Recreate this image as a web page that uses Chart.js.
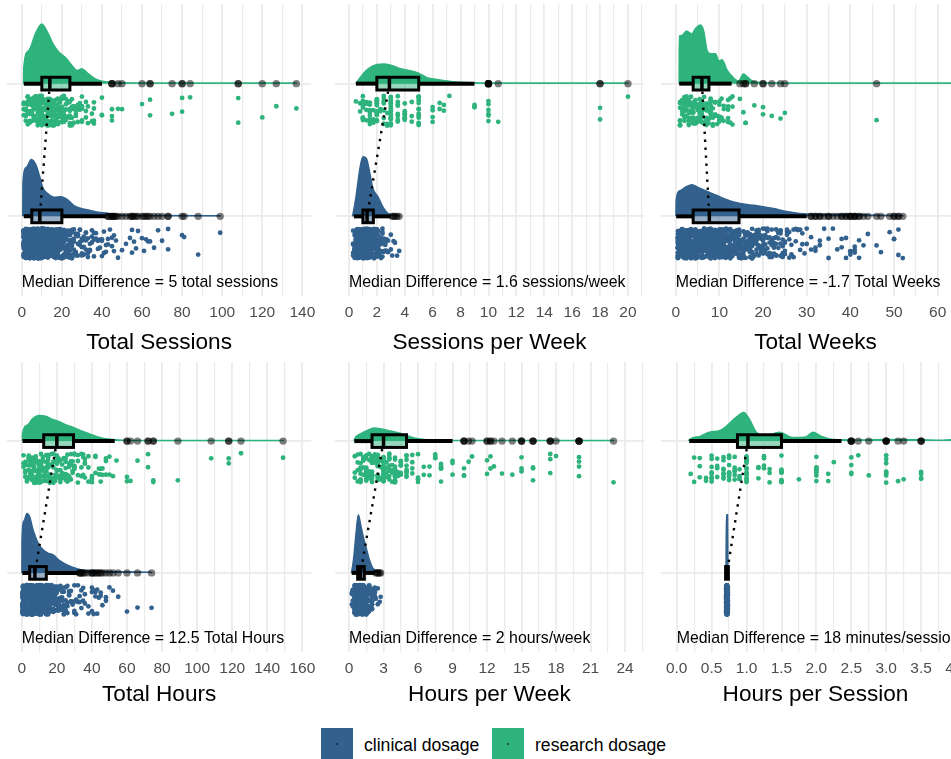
<!DOCTYPE html>
<html>
<head>
<meta charset="utf-8">
<title>Clinical vs research dosage</title>
<script src="https://cdn.jsdelivr.net/npm/chart.js@4/dist/chart.umd.min.js"></script>
<style>
  html, body { margin: 0; padding: 0; background: #fff; }
  body { position: relative; width: 951px; height: 759px; overflow: hidden;
         font-family: "Liberation Sans", Arial, Helvetica, sans-serif; }
  canvas { position: absolute; }
  .key { position: absolute; top: 728px; width: 32px; height: 32px; }
  .key::after { content: ""; position: absolute; left: 15px; top: 15px; width: 2px; height: 2px;
                background: rgba(0,0,0,0.65); border-radius: 1px; }
  .key-label { position: absolute; top: 734px; font-size: 17.6px; line-height: 22px; color: #000; white-space: nowrap; }
</style>
</head>
<body>
<script>
// ---------------- groups ----------------
const groupNames = ['clinical dosage', 'research dosage'];

// ---------------- Total Sessions ----------------
const sessionsTicks = [0, 20, 40, 60, 80, 100, 120, 140];
// [value, number of cases]
const sessionsResearch = [[1,4],[2,5],[3,6],[4,7],[5,8],[6,10],[7,9],[8,12],[9,9],[10,19],[11,8],[12,17],[13,8],[14,9],[15,14],[16,10],[17,6],[18,9],[19,4],[20,12],[21,5],[22,6],[23,3],[24,8],[25,4],[26,3],[27,3],[28,4],[29,2],[30,6],[32,3],[33,2],[35,2],[36,4],[40,3],[45,3],[48,1],[50,1],[60,1],[64,2],[75,1],[80,2],[84,1],[108,2],[120,1],[127,1],[137,1]];
const sessionsClinical = [[1,30],[2,44],[3,50],[4,52],[5,52],[6,48],[7,44],[8,40],[9,38],[10,36],[11,30],[12,28],[13,25],[14,22],[15,22],[16,19],[17,16],[18,16],[19,13],[20,15],[21,10],[22,10],[23,8],[24,8],[25,7],[26,5],[27,5],[28,5],[29,4],[30,5],[31,3],[32,4],[33,3],[34,3],[35,3],[36,3],[37,2],[38,2],[39,2],[40,3],[41,2],[42,2],[43,2],[44,1],[45,2],[46,2],[47,1],[48,1],[50,1],[52,1],[54,1],[55,2],[56,1],[57,1],[58,1],[60,1],[61,1],[62,1],[63,1],[64,1],[66,1],[68,1],[70,1],[73,2],[80,1],[81,1],[88,1],[99,1]];
// [lower whisker, Q1, median, Q3, upper whisker]
const sessionsResearchBox = [1, 10, 14, 24, 40];
const sessionsClinicalBox = [1, 5, 9, 20, 42];
const sessionsResearchOutliers = [45, 45, 45, 48, 50, 60, 64, 64, 75, 80, 80, 84, 108, 108, 120, 127, 137];
const sessionsClinicalOutliers = [43, 43, 44, 45, 45, 46, 46, 47, 48, 50, 52, 54, 55, 55, 56, 57, 58, 60, 61, 62, 63, 64, 66, 68, 70, 73, 73, 80, 81, 88, 99];
// [value, relative density]
const sessionsResearchDensity = [[0.9,0],[1,0.27],[3.4,0.55],[7,0.85],[10,1],[13,0.85],[15.5,0.67],[18.7,0.52],[22,0.43],[24.4,0.33],[27.7,0.22],[30,0.25],[32.6,0.18],[36.7,0.08],[41.6,0.03],[50,0.015],[80,0.01],[137,0.01],[137.3,0]];
const sessionsClinicalDensity = [[0.5,0],[0.6,0.57],[2.3,0.82],[4.8,0.95],[7.2,0.85],[8.8,0.68],[10.5,0.48],[12.9,0.38],[16.2,0.32],[19.5,0.33],[22.8,0.28],[26,0.18],[30,0.13],[34,0.1],[38,0.07],[43,0.05],[46.5,0.025],[60,0.015],[99,0.01],[99.3,0]];

// ---------------- Sessions per Week ----------------
const weeklySessionsTicks = [0, 2, 4, 6, 8, 10, 12, 14, 16, 18, 20];
const weeklySessionsResearch = [[0.5,1],[0.8,2],[1,8],[1.25,4],[1.5,8],[1.75,3],[2,14],[2.25,4],[2.5,10],[2.75,3],[3,16],[3.5,8],[4,10],[4.5,3],[5,14],[6,4],[6.5,2],[6.8,2],[7.2,1],[9,3],[10,6],[10.7,1],[18,2],[20,1]];
const weeklySessionsClinical = [[0.3,5],[0.4,8],[0.5,16],[0.6,18],[0.7,23],[0.8,28],[0.9,30],[1,50],[1.1,30],[1.2,28],[1.3,26],[1.4,23],[1.5,26],[1.6,18],[1.7,16],[1.8,13],[1.9,10],[2,18],[2.1,8],[2.2,6],[2.3,5],[2.4,5],[2.5,4],[2.6,3],[2.7,2],[2.8,2],[3,2],[3.1,1],[3.2,1],[3.3,1],[3.45,1],[3.6,1]];
const weeklySessionsResearchBox = [0.5, 2, 2.9, 5, 9];
const weeklySessionsClinicalBox = [0.35, 1.0, 1.3, 1.75, 3.0];
const weeklySessionsResearchOutliers = [10, 10, 10, 10, 10, 10, 10.7, 18, 18, 20];
const weeklySessionsClinicalOutliers = [3.1, 3.2, 3.3, 3.45, 3.6];
const weeklySessionsResearchDensity = [[0.5,0],[0.55,0.02],[0.9,0.13],[1.4,0.25],[2,0.32],[2.5,0.33],[3.1,0.3],[3.7,0.25],[4.3,0.22],[4.95,0.18],[5.6,0.1],[6.3,0.07],[7.5,0.03],[9,0.015],[12,0.01],[20,0.01],[20.05,0]];
const weeklySessionsClinicalDensity = [[0.25,0],[0.3,0.05],[0.5,0.32],[0.8,0.82],[1.0,1.0],[1.25,0.97],[1.5,0.72],[1.7,0.48],[2.1,0.32],[2.45,0.15],[2.8,0.05],[3.3,0.02],[3.6,0.01],[3.65,0]];

// ---------------- Total Weeks ----------------
const weeksTicks = [0, 10, 20, 30, 40, 50, 60];
const weeksResearch = [[1,8],[1.5,4],[2,9],[2.5,5],[3,9],[3.5,5],[4,12],[4.5,6],[5,10],[5.5,6],[6,12],[6.5,5],[7,8],[7.5,4],[8,10],[8.5,4],[9,5],[9.5,2],[10,6],[10.5,2],[11,3],[12,5],[12.5,2],[13,3],[14.7,1],[15.5,1],[16,2],[18,1],[20,2],[22,1],[24,1],[25,1],[46,1]];
const weeksClinical = [[0.5,20],[1,20],[1.5,20],[2,21],[2.5,21],[3,22],[3.5,22],[4,24],[4.5,24],[5,22],[5.5,21],[6,21],[6.5,20],[7,20],[7.5,18],[8,20],[8.5,18],[9,18],[9.5,17],[10,18],[10.5,17],[11,15],[11.5,14],[12,15],[12.5,14],[13,14],[13.5,12],[14,14],[14.5,12],[15,12],[15.5,11],[16,11],[16.5,9],[17,10],[17.5,9],[18,9],[18.5,8],[19,8],[19.5,6],[20,8],[20.5,5],[21,5],[21.5,5],[22,5],[22.5,5],[23,5],[23.5,4],[24,5],[24.5,4],[25,4],[25.5,3],[26,3],[26.5,2],[27,2],[27.5,2],[28,2],[28.5,2],[29,2],[29.5,1],[30,2],[31,2],[32,2],[33,2],[34,1],[35,2],[36,1],[37,1],[38,2],[39,2],[40,3],[41,3],[42,2],[43,1],[44,1],[46,1],[47,1],[49,1],[50,2],[51,2],[52,1]];
const weeksResearchBox = [0.8, 4, 6, 7.6, 12.8];
const weeksClinicalBox = [0.1, 4, 7.7, 14.5, 30];
const weeksResearchOutliers = [14.7, 15.5, 16, 16, 18, 20, 20, 22, 24, 25, 46];
const weeksClinicalOutliers = [31, 31, 32, 32, 33, 33, 34, 35, 35, 36, 37, 38, 38, 39, 39, 40, 40, 40, 41, 41, 41, 42, 42, 43, 44, 46, 47, 49, 50, 50, 51, 51, 52];
const weeksResearchDensity = [[0.78,0],[0.82,0.8],[1.3,0.8],[2.5,0.88],[3.7,0.83],[4.5,0.92],[5.7,0.98],[6.4,0.88],[7.2,0.55],[8,0.5],[9.1,0.5],[9.9,0.38],[10.6,0.4],[11.8,0.22],[12.8,0.13],[14.4,0.04],[15.5,0.16],[16.6,0.1],[17.8,0.03],[20,0.015],[30,0.01],[66,0.01],[66.1,0]];
const weeksClinicalDensity = [[0.05,0],[0.1,0.27],[1,0.43],[2.5,0.5],[3.7,0.53],[5.2,0.48],[7.1,0.42],[9.4,0.35],[11.7,0.28],[14,0.23],[16.3,0.2],[19.3,0.17],[22.4,0.13],[25.4,0.08],[28.4,0.05],[31.5,0.035],[40,0.03],[46,0.02],[52,0.015],[52.1,0]];

// ---------------- Total Hours ----------------
const hoursTicks = [0, 20, 40, 60, 80, 100, 120, 140, 160];
const hoursResearch = [[1,3],[2,4],[3,5],[4,6],[5,6],[6,6],[7,5],[8,7],[9,6],[10,9],[11,5],[12,8],[13,5],[14,6],[15,8],[16,6],[17,5],[18,7],[19,4],[20,9],[21,4],[22,5],[23,4],[24,6],[25,5],[26,4],[27,4],[28,4],[29,3],[30,6],[32,4],[34,3],[35,3],[36,4],[38,3],[40,4],[42,3],[44,2],[45,3],[46,2],[48,3],[50,2],[52,1],[54,1],[60,2],[62,1],[66,1],[72,2],[75,2],[89,1],[108,1],[118,2],[125,1],[149,1]];
const hoursClinical = [[0.5,22],[1,44],[2,50],[3,52],[4,52],[5,46],[6,44],[7,40],[8,38],[9,32],[10,32],[11,26],[12,26],[13,20],[14,20],[15,17],[16,17],[17,14],[18,14],[19,11],[20,12],[21,8],[22,8],[23,7],[24,7],[25,4],[26,4],[27,4],[28,3],[29,3],[30,4],[31,2],[32,2],[33,2],[34,2],[35,2],[36,2],[38,2],[40,3],[41,2],[42,2],[43,2],[44,1],[45,2],[46,1],[48,2],[50,1],[52,1],[55,1],[60,1],[66,1],[74,1]];
const hoursResearchBox = [0.4, 12.5, 20, 29.5, 53];
const hoursClinicalBox = [0.3, 4.5, 7.5, 14, 32];
const hoursResearchOutliers = [60, 60, 62, 66, 72, 72, 75, 75, 89, 108, 118, 118, 125, 149];
const hoursClinicalOutliers = [33, 33, 34, 34, 35, 36, 38, 40, 40, 41, 42, 43, 44, 45, 46, 48, 50, 52, 55, 60, 66, 74];
const hoursResearchDensity = [[0.35,0],[0.42,0.12],[3.2,0.27],[6,0.37],[9.7,0.43],[13.5,0.42],[17.2,0.37],[21,0.33],[24.7,0.28],[29.4,0.23],[34,0.17],[38.7,0.12],[43.4,0.07],[49,0.035],[55,0.02],[70,0.012],[149,0.01],[149.3,0]];
const hoursClinicalDensity = [[0.08,0],[0.12,0.55],[1.3,0.88],[3,1],[4.7,0.93],[6,0.77],[7.9,0.6],[9.7,0.48],[12.5,0.38],[15.3,0.33],[18.1,0.3],[21,0.22],[24.7,0.15],[28.5,0.1],[34,0.05],[39.6,0.033],[50,0.02],[74,0.01],[74.3,0]];

// ---------------- Hours per Week ----------------
const weeklyHoursTicks = [0, 3, 6, 9, 12, 15, 18, 21, 24];
const weeklyHoursResearch = [[0.5,3],[0.75,4],[1,10],[1.25,6],[1.5,10],[1.75,5],[2,16],[2.25,5],[2.5,12],[2.75,4],[3,18],[3.25,4],[3.5,10],[3.75,4],[4,14],[4.25,3],[4.5,6],[5,10],[5.5,4],[6,4],[6.5,2],[7,2],[7.5,3],[8,6],[9,3],[10,3],[10.4,1],[10.7,1],[12,2],[12.3,2],[12.6,1],[13.3,1],[14.2,1],[15,3],[16,3],[17.5,3],[18,1],[20,4],[23,1]];
const weeklyHoursClinical = [[0.25,3],[0.33,5],[0.5,22],[0.6,16],[0.67,14],[0.75,44],[0.8,22],[0.9,16],[1,44],[1.1,14],[1.2,16],[1.25,18],[1.33,12],[1.5,24],[1.67,9],[1.75,9],[2,13],[2.25,4],[2.33,1],[2.5,2],[2.67,1],[2.75,1]];
const weeklyHoursResearchBox = [0.46, 2, 3, 5, 9];
const weeklyHoursClinicalBox = [0.23, 0.75, 1, 1.33, 2.25];
const weeklyHoursResearchOutliers = [10, 10, 10, 10.4, 10.7, 12, 12, 12.3, 12.3, 12.6, 13.3, 14.2, 15, 15, 15, 16, 16, 16, 17.5, 17.5, 17.5, 18, 20, 20, 20, 20, 23];
const weeklyHoursClinicalOutliers = [2.33, 2.5, 2.5, 2.67, 2.75];
const weeklyHoursResearchDensity = [[0.44,0],[0.46,0.02],[1,0.12],[1.6,0.18],[2.2,0.22],[2.7,0.21],[3.6,0.17],[4.5,0.13],[5.3,0.075],[6.2,0.035],[7.6,0.015],[10,0.01],[23,0.01],[23.05,0]];
const weeklyHoursClinicalDensity = [[0.2,0],[0.23,0.02],[0.42,0.27],[0.6,0.65],[0.81,0.98],[1,0.82],[1.25,0.6],[1.48,0.43],[1.77,0.22],[2.1,0.07],[2.7,0.015],[2.75,0]];

// ---------------- Hours per Session ----------------
const sessionHoursTicks = [0, 0.5, 1, 1.5, 2, 2.5, 3, 3.5, 4];
const sessionHoursResearch = [[0.2,1],[0.25,2],[0.33,3],[0.42,2],[0.5,8],[0.58,4],[0.67,8],[0.75,10],[0.83,6],[0.9,4],[1,16],[1.17,3],[1.25,4],[1.33,3],[1.5,9],[1.75,1],[2,8],[2.17,2],[2.25,1],[2.5,4],[2.6,1],[2.75,1],[3,7],[3.17,1],[3.25,1],[3.5,4]];
const sessionHoursClinical = [[0.71,40],[0.72,220],[0.73,40]];
const sessionHoursResearchBox = [0.18, 0.87, 1.02, 1.5, 2.36];
const sessionHoursClinicalBox = [0.7, 0.7, 0.72, 0.74, 0.74];
const sessionHoursResearchOutliers = [2.5, 2.5, 2.5, 2.5, 2.6, 2.75, 3, 3, 3, 3, 3.17, 3.25, 3.5, 3.5, 3.5];
const sessionHoursClinicalOutliers = [];
const sessionHoursResearchDensity = [[0.17,0],[0.18,0.02],[0.33,0.08],[0.47,0.15],[0.62,0.18],[0.73,0.27],[0.85,0.4],[0.96,0.48],[1.04,0.37],[1.14,0.15],[1.28,0.09],[1.47,0.15],[1.66,0.06],[1.85,0.07],[1.95,0.15],[2.07,0.08],[2.24,0.025],[2.6,0.02],[3,0.025],[3.5,0.022],[3.8,0.015],[4.05,0.03],[4.3,0.01],[4.5,0]];
const sessionHoursClinicalDensity = [[0.706,0],[0.712,0.98],[0.728,0.98],[0.734,0]];

// ---------------- styling ----------------
const FONT = '"Liberation Sans", Arial, Helvetica, sans-serif';
const COLOURS = { clinical: '#32618D', research: '#2EB37C' };
const GRID = '#EBEBEB';
const SLAB = 0.45;        // tallest density slab, in category units
const BOX_HALF = 0.048;   // half height of a box
const JIT_NEAR = 0.092, JIT_SPAN = 0.225;  // rain band below each cloud

const colLeft = [0, 328, 654];
const rowTop = [0, 358];
const rowHeight = [356, 354];
const rowPadTop = [3.2, 3.5];
const rowTitlePad = [0, 3.8];

const panelSpecs = [
  { title: 'Total Sessions', unit: 'total sessions', unitScale: 1, ticks: sessionsTicks, decimals: 0,
    min: -7.37, max: 144.4, col: 0, row: 0,
    research: { pts: sessionsResearch, box: sessionsResearchBox, out: sessionsResearchOutliers, dens: sessionsResearchDensity },
    clinical: { pts: sessionsClinical, box: sessionsClinicalBox, out: sessionsClinicalOutliers, dens: sessionsClinicalDensity } },
  { title: 'Sessions per Week', unit: 'sessions/week', unitScale: 1, ticks: weeklySessionsTicks, decimals: 0,
    min: -1.0, max: 21.15, col: 1, row: 0,
    research: { pts: weeklySessionsResearch, box: weeklySessionsResearchBox, out: weeklySessionsResearchOutliers, dens: weeklySessionsResearchDensity },
    clinical: { pts: weeklySessionsClinical, box: weeklySessionsClinicalBox, out: weeklySessionsClinicalOutliers, dens: weeklySessionsClinicalDensity } },
  { title: 'Total Weeks', unit: 'Total Weeks', unitScale: 1, ticks: weeksTicks, decimals: 0,
    min: -3.37, max: 67.4, col: 2, row: 0,
    research: { pts: weeksResearch, box: weeksResearchBox, out: weeksResearchOutliers, dens: weeksResearchDensity },
    clinical: { pts: weeksClinical, box: weeksClinicalBox, out: weeksClinicalOutliers, dens: weeksClinicalDensity } },
  { title: 'Total Hours', unit: 'Total Hours', unitScale: 1, ticks: hoursTicks, decimals: 0,
    min: -8.42, max: 165.1, col: 0, row: 1,
    research: { pts: hoursResearch, box: hoursResearchBox, out: hoursResearchOutliers, dens: hoursResearchDensity },
    clinical: { pts: hoursClinical, box: hoursClinicalBox, out: hoursClinicalOutliers, dens: hoursClinicalDensity } },
  { title: 'Hours per Week', unit: 'hours/week', unitScale: 1, ticks: weeklyHoursTicks, decimals: 0,
    min: -1.22, max: 25.65, col: 1, row: 1,
    research: { pts: weeklyHoursResearch, box: weeklyHoursResearchBox, out: weeklyHoursResearchOutliers, dens: weeklyHoursResearchDensity },
    clinical: { pts: weeklyHoursClinical, box: weeklyHoursClinicalBox, out: weeklyHoursClinicalOutliers, dens: weeklyHoursClinicalDensity } },
  { title: 'Hours per Session', unit: 'minutes/session', unitScale: 60, ticks: sessionHoursTicks, decimals: 1,
    min: -0.225, max: 4.2, col: 2, row: 1,
    research: { pts: sessionHoursResearch, box: sessionHoursResearchBox, out: sessionHoursResearchOutliers, dens: sessionHoursResearchDensity },
    clinical: { pts: sessionHoursClinical, box: sessionHoursClinicalBox, out: sessionHoursClinicalOutliers, dens: sessionHoursClinicalDensity } }
];

// ---------------- helpers ----------------
function withAlpha(hex, a) {
  const n = parseInt(hex.slice(1), 16);
  return `rgba(${(n >> 16) & 255},${(n >> 8) & 255},${n & 255},${a})`;
}
const key = v => Math.round(v * 10000);

// integer hash of (case number, salt) -> [0, 1), used as a fixed vertical spread
function spread(a, b) {
  let h = Math.imul(a, 374761393) + Math.imul(b, 668265263) | 0;
  h = Math.imul(h ^ (h >>> 13), 1274126177);
  h ^= h >>> 16;
  return (h >>> 0) / 4294967296;
}

// drop each case into the rain band under its cloud (its x value is untouched)
function rain(pairs, base, salt) {
  const out = [];
  let k = 0;
  for (const [v, n] of pairs) {
    for (let i = 0; i < n; i++) {
      out.push({ x: v, y: base - JIT_NEAR - JIT_SPAN * spread(++k, salt) });
    }
  }
  return out;
}

function medianLabel(spec) {
  const d = (spec.research.box[2] - spec.clinical.box[2]) * spec.unitScale;
  const r = Math.round(d * 10) / 10;
  return `Median Difference = ${r} ${spec.unit}`;
}

function groupDatasets(g, base, colour, salt) {
  return [
    { type: 'line', data: g.dens.map(([x, h]) => ({ x, y: base + h * SLAB })),
      borderColor: colour, backgroundColor: colour, borderWidth: 1.5, fill: { value: base },
      pointRadius: 0, cubicInterpolationMode: 'monotone', order: 60 },
    { type: 'scatter', data: rain(g.pts, base, salt), backgroundColor: colour,
      borderWidth: 0, pointRadius: 2.4, order: 50 },
    { type: 'line', data: [{ x: g.box[0], y: base }, { x: g.box[1], y: base }],
      borderColor: '#000', borderWidth: 4, pointRadius: 0, order: 30 },
    { type: 'line', data: [{ x: g.box[3], y: base }, { x: g.box[4], y: base }],
      borderColor: '#000', borderWidth: 4, pointRadius: 0, order: 30 },
    { type: 'scatter', data: g.out.map(v => ({ x: v, y: base })), backgroundColor: 'rgba(0,0,0,0.5)',
      borderWidth: 0, pointRadius: 3.7, order: 10 }
  ];
}

function makePanel(spec, idx) {
  const cv = document.createElement('canvas');
  cv.width = 323;
  cv.height = rowHeight[spec.row];
  cv.style.left = colLeft[spec.col] + 'px';
  cv.style.top = rowTop[spec.row] + 'px';
  document.body.appendChild(cv);

  const labelled = new Set(spec.ticks.map(key));
  const gridValues = spec.ticks.slice();
  const step = spec.ticks[1] - spec.ticks[0];
  spec.ticks.forEach(t => { if (t + step / 2 <= spec.max) gridValues.push(t + step / 2); });
  gridValues.sort((a, b) => a - b);

  const label = medianLabel(spec);
  const groups = [
    { g: spec.research, base: 2, colour: COLOURS.research },
    { g: spec.clinical, base: 1, colour: COLOURS.clinical }
  ];

  const datasets = [
    ...groupDatasets(spec.research, 2, COLOURS.research, 101 + idx * 17),
    ...groupDatasets(spec.clinical, 1, COLOURS.clinical, 907 + idx * 31),
    { type: 'line', data: [{ x: spec.research.box[2], y: 2 }, { x: spec.clinical.box[2], y: 1 }],
      borderColor: '#000', borderWidth: 2.4, borderDash: [2.4, 5.6], pointRadius: 0, order: 40 }
  ];

  const boxes = {
    id: 'boxes',
    afterDatasetsDraw(chart) {
      const { ctx, chartArea: a, scales: { x, y } } = chart;
      ctx.save();
      ctx.beginPath();
      ctx.rect(a.left, a.top, a.right - a.left, a.bottom - a.top);
      ctx.clip();
      for (const { g, base, colour } of groups) {
        const [, q1, med, q3] = g.box;
        const xl = x.getPixelForValue(q1), xr = x.getPixelForValue(q3);
        const yt = y.getPixelForValue(base + BOX_HALF), yb = y.getPixelForValue(base - BOX_HALF);
        ctx.fillStyle = withAlpha(colour, 0.5);
        ctx.fillRect(xl, yt, xr - xl, yb - yt);
        ctx.lineWidth = 3;
        ctx.strokeStyle = '#000';
        ctx.strokeRect(xl, yt, xr - xl, yb - yt);
        const xm = x.getPixelForValue(med);
        ctx.lineWidth = 3.5;
        ctx.beginPath();
        ctx.moveTo(xm, yt);
        ctx.lineTo(xm, yb);
        ctx.stroke();
      }
      ctx.restore();
      ctx.save();
      ctx.font = `15.9px ${FONT}`;
      ctx.fillStyle = '#000';
      ctx.textAlign = 'left';
      ctx.textBaseline = 'middle';
      ctx.fillText(label, x.getPixelForValue(0), y.getPixelForValue(0.5));
      ctx.restore();
    }
  };

  new Chart(cv, {
    type: 'scatter',
    data: { datasets },
    plugins: [boxes],
    options: {
      responsive: false, animation: false, devicePixelRatio: 1, events: [],
      layout: { padding: { left: 7, right: 7, top: rowPadTop[spec.row], bottom: 0 } },
      plugins: { legend: { display: false }, tooltip: { enabled: false } },
      scales: {
        x: {
          type: 'linear', min: spec.min, max: spec.max,
          afterBuildTicks: s => { s.ticks = gridValues.map(v => ({ value: v })); },
          afterFit: s => { s.height = 60; },
          ticks: {
            autoSkip: false, maxRotation: 0, minRotation: 0, padding: 7.5,
            color: '#4D4D4D', font: { family: FONT, size: 15.5 },
            callback: v => labelled.has(key(v)) ? v.toFixed(spec.decimals) : ''
          },
          grid: {
            color: GRID, drawTicks: false,
            lineWidth: c => (c.tick && labelled.has(key(c.tick.value))) ? 1.8 : 1.2
          },
          border: { display: false },
          title: { display: true, text: spec.title, color: '#000',
                   font: { family: FONT, size: 22.6 }, padding: { top: 0, bottom: rowTitlePad[spec.row] } }
        },
        y: {
          type: 'linear', min: 0.4, max: 2.6,
          afterBuildTicks: s => { s.ticks = [{ value: 1 }, { value: 2 }]; },
          afterFit: s => { s.width = 0; },
          ticks: { display: false },
          grid: { color: GRID, lineWidth: 1.8, drawTicks: false },
          border: { display: false }
        }
      }
    }
  });
}

panelSpecs.forEach(makePanel);

// ---------------- legend ----------------
const legendItems = [
  { name: groupNames[0], colour: COLOURS.clinical, keyLeft: 321, textLeft: 364 },
  { name: groupNames[1], colour: COLOURS.research, keyLeft: 492, textLeft: 535 }
];
legendItems.forEach(it => {
  const k = document.createElement('div');
  k.className = 'key';
  k.style.left = it.keyLeft + 'px';
  k.style.background = it.colour;
  document.body.appendChild(k);
  const t = document.createElement('div');
  t.className = 'key-label';
  t.style.left = it.textLeft + 'px';
  t.textContent = it.name;
  document.body.appendChild(t);
});
</script>
</body>
</html>
